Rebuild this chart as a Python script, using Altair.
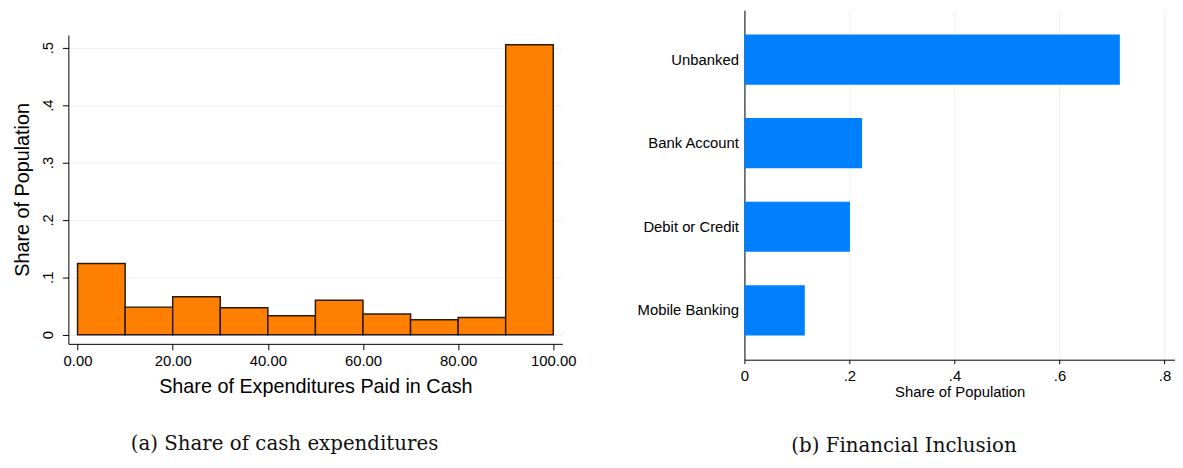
import altair as alt
import pandas as pd

# ---- data ----
bin_start = [0, 10, 20, 30, 40, 50, 60, 70, 80, 90]
bin_end = [10, 20, 30, 40, 50, 60, 70, 80, 90, 100]
cash_share = [0.124, 0.048, 0.066, 0.047, 0.033, 0.060, 0.036, 0.026, 0.030, 0.505]

inclusion_labels = ["Unbanked", "Bank Account", "Debit or Credit", "Mobile Banking"]
inclusion_share = [0.715, 0.224, 0.201, 0.115]

x_ticks_a = [0, 20, 40, 60, 80, 100]
y_ticks_a = [0, 0.1, 0.2, 0.3, 0.4, 0.5]
x_ticks_b = [0, 0.2, 0.4, 0.6, 0.8]

SANS = "Liberation Sans"
SERIF = "DejaVu Serif"
GRID = "#e9f0f2"

df_a = pd.DataFrame({"start": bin_start, "end": bin_end, "share": cash_share})
df_b = pd.DataFrame({"label": inclusion_labels, "share": inclusion_share})

stata_label = "datum.value == 0 ? '0' : '.' + format(round(datum.value * 10), 'd')"

left = alt.Chart(df_a).mark_bar(
    color="#ff8000", stroke="#2b1a0b", strokeWidth=1.5
).encode(
    x=alt.X(
        "start:Q",
        scale=alt.Scale(domain=[-1.93, 101.9], nice=False, zero=False),
        axis=alt.Axis(
            values=x_ticks_a, format=".2f", title="Share of Expenditures Paid in Cash",
            grid=False, labelFontSize=15, titleFontSize=20, tickSize=6,
            labelPadding=4, titlePadding=8, labelFlush=False,
        ),
    ),
    x2="end:Q",
    y=alt.Y(
        "share:Q",
        scale=alt.Scale(domain=[-0.016, 0.522], nice=False, zero=False),
        axis=alt.Axis(
            values=y_ticks_a, labelExpr=stata_label, title="Share of Population",
            labelAngle=270, labelAlign="center", labelBaseline="bottom",
            grid=True, gridColor=GRID, labelFontSize=15, titleFontSize=20,
            tickSize=6, labelPadding=7, titlePadding=8,
        ),
    ),
    y2=alt.datum(0),
).properties(width=499, height=312)

# invisible spacer that lowers the left panel's plot area below the right one's top
spacer = alt.Chart(pd.DataFrame({"s": [0]})).mark_point(opacity=0, size=4).encode(
    x=alt.value(250), y=alt.value(12)
).properties(width=499, height=25)

left_panel = alt.vconcat(spacer, left, spacing=0).properties(
    title=alt.TitleParams(
        "(a) Share of cash expenditures", orient="bottom", anchor="middle",
        frame="bounds", font=SERIF, fontSize=20, fontWeight="normal",
        offset=38, color="#111111", dx=-10,
    )
)

right = alt.Chart(df_b).mark_bar(color="#0080ff").encode(
    y=alt.Y(
        "label:N",
        sort=inclusion_labels,
        scale=alt.Scale(paddingInner=0.4, paddingOuter=0.29),
        axis=alt.Axis(title=None, ticks=False, labelFontSize=15, labelPadding=6),
    ),
    x=alt.X(
        "share:Q",
        scale=alt.Scale(domain=[0, 0.82], nice=False),
        axis=alt.Axis(
            values=x_ticks_b, labelExpr=stata_label, title="Share of Population",
            grid=True, gridColor=GRID, tickSize=4, labelFontSize=15,
            titleFontSize=15, labelPadding=5, titlePadding=1, labelFlush=False,
        ),
    ),
).properties(
    width=435,
    height=353,
    title=alt.TitleParams(
        "(b) Financial Inclusion", orient="bottom", anchor="middle",
        frame="bounds", font=SERIF, fontSize=20, fontWeight="normal",
        offset=37, color="#111111", dx=-2,
    ),
)

chart = alt.hconcat(left_panel, right, spacing=61).properties(
    padding={"left": 5, "top": 0, "right": 0, "bottom": 0}
).configure_view(stroke=None).configure_axis(
    domainColor="black", tickColor="black", labelColor="black", titleColor="black",
    labelFont=SANS, titleFont=SANS, titleFontWeight="normal",
    domainWidth=1, tickWidth=1,
)

chart.save("out.html", embed_options={"renderer": "svg", "actions": False})
